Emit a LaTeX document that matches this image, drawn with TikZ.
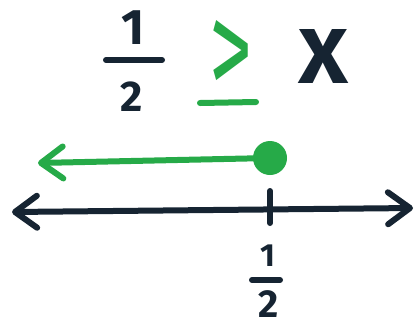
\documentclass[tikz,border=0pt]{standalone}
\usepackage{fontspec}
\setmainfont{Fira Sans}
\usetikzlibrary{arrows.meta}
\definecolor{ink}{RGB}{22,36,50}
\definecolor{markergreen}{RGB}{38,170,72}
\tikzset{
  pen/.style={line width=6pt, line cap=round, line join=round},
  barb/.tip={Straight Barb[length=22pt,width=32pt,line width=6pt,round]},
  hand/.style={font=\bfseries, inner sep=0pt},
}
\begin{document}
\begin{tikzpicture}[x=1pt,y=-1pt]
\useasboundingbox[fill=white] (0,0) rectangle (417,325);
% top inequality
\node[hand, text=ink] (one) at (133,28) {\fontsize{50}{50}\selectfont 1};
\draw[pen, ink] (106,60) -- (162,60);
\node[hand, text=ink] (two) at (132,97) {\fontsize{43}{43}\selectfont 2};
\node[hand, text=markergreen, font=\mdseries] (gt) at (231,58) {\resizebox{43pt}{76pt}{>}};
\draw[pen, markergreen] (200,103) -- (256,102);
\node[hand, text=ink] (x) at (324,56) {\resizebox{50pt}{54pt}{X}};
% green ray
\node[circle, fill=markergreen, minimum size=34pt, inner sep=0pt] (dot) at (270,158) {};
\coordinate (gtip) at (38,163);
\draw[pen, markergreen, -{barb}] (dot.center) -- (gtip);
% number line
\coordinate (lend) at (12,212);
\coordinate (rend) at (413,208);
\draw[pen, ink, {barb}-{barb}] (lend) -- (rend);
\draw[pen, ink] (270,191) -- (270,223);
% label
\node[hand, text=ink] (lone) at (268,256) {\fontsize{32}{32}\selectfont 1};
\draw[pen, ink] (252,280) -- (280,280);
\node[hand, text=ink] (ltwo) at (269,304) {\fontsize{39}{39}\selectfont 2};
\end{tikzpicture}
\end{document}
